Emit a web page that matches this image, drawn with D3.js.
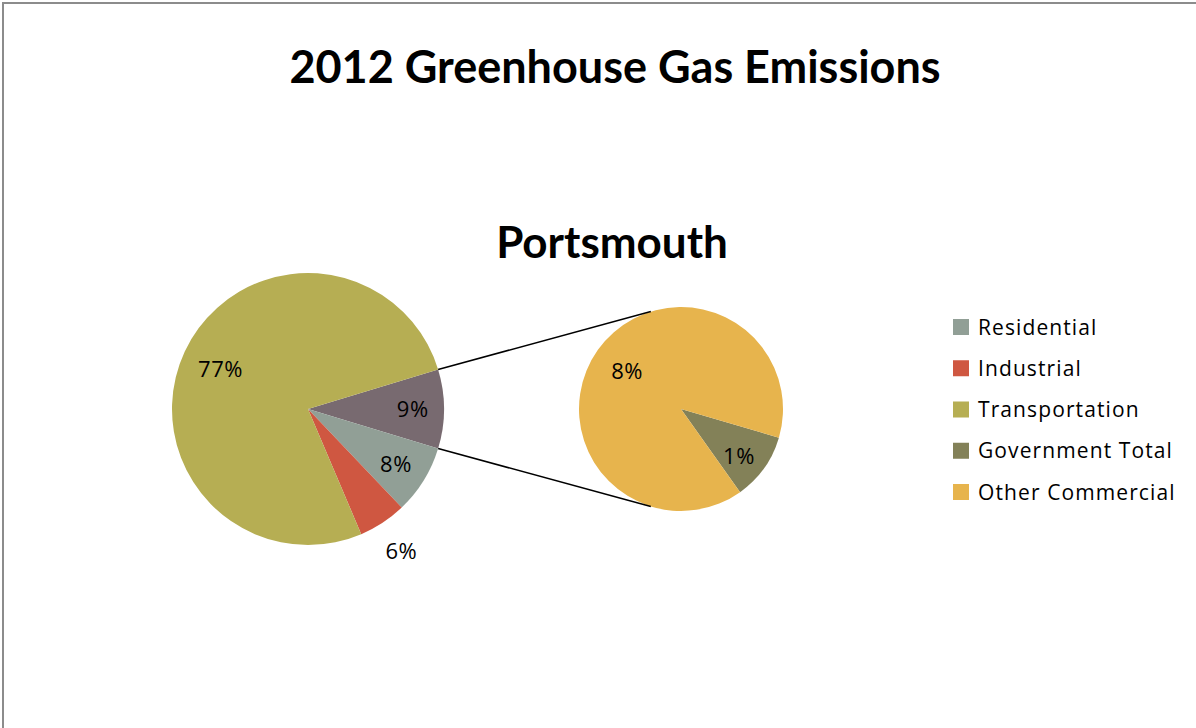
<!DOCTYPE html>
<html lang="en">
<head>
    <meta charset="UTF-8">
    <title>2012 Greenhouse Gas Emissions - Portsmouth</title>
    <script src="https://cdn.jsdelivr.net/npm/d3@7"></script>
    <style>
        body { margin: 0; background: #fff; }
        text { font-family: 'Open Sans', sans-serif; fill: #000; }
        .ttl { font-family: Lato, sans-serif; font-weight: bold; }
    </style>
</head>
<body>
<script>
    // main pie (the "other" slice is split in the small pie)
    const mainCats = ["Other", "Residential", "Industrial", "Transportation"];
    const mainVals = [9.4, 8.2, 5.7, 76.7];
    const mainLabels = ["9%", "8%", "6%", "77%"];

    // secondary pie
    const subCats = ["Government Total", "Other Commercial"];
    const subVals = [1.0, 8.4];
    const subLabels = ["1%", "8%"];

    const legendCats = ["Residential", "Industrial", "Transportation", "Government Total", "Other Commercial"];
    const colors = ["#919f96", "#cf5741", "#b6ae53", "#838158", "#e7b44d"];
    const otherColor = "#786a70";

    const W = 1196, H = 728;
    const color = d3.scaleOrdinal().domain(legendCats).range(colors).unknown(otherColor);

    const svg = d3.select("body").append("svg").attr("width", W).attr("height", H);

    // chart border (only top + left visible in the picture)
    svg.append("path")
        .attr("d", "M3,728 V3 H1196")
        .attr("fill", "none")
        .attr("stroke", "#8c8c8c")
        .attr("stroke-width", 2);

    svg.append("text").attr("class", "ttl")
        .attr("x", 615).attr("y", 83)
        .attr("text-anchor", "middle")
        .style("font-size", "45px")
        .text("2012 Greenhouse Gas Emissions");

    svg.append("text").attr("class", "ttl")
        .attr("x", 612).attr("y", 258)
        .attr("text-anchor", "middle")
        .style("font-size", "44px")
        .text("Portsmouth");

    // ---- main pie
    const c1 = [308, 409], r1 = 136;
    const otherSpan = mainVals[0] / d3.sum(mainVals) * 2 * Math.PI;
    const start1 = Math.PI / 2 - otherSpan / 2;
    const pie1 = d3.pie().sort(null).startAngle(start1).endAngle(start1 + 2 * Math.PI);
    const arcs1 = pie1(mainVals);
    const arc1 = d3.arc().innerRadius(0).outerRadius(r1);

    const g1 = svg.append("g").attr("transform", `translate(${c1})`);
    g1.selectAll("path").data(arcs1).join("path")
        .attr("d", arc1)
        .attr("fill", (d, i) => color(mainCats[i]));

    // label radius per slice (industrial sits outside)
    const labR1 = [0.77, 0.76, 1.25, 0.71];
    g1.selectAll("text").data(arcs1).join("text")
        .attr("transform", (d, i) => {
            const [x, y] = d3.arc().innerRadius(r1 * labR1[i]).outerRadius(r1 * labR1[i]).centroid(d);
            return `translate(${x},${y})`;
        })
        .attr("text-anchor", "middle")
        .attr("dy", "0.38em")
        .style("font-size", "22px")
        .style("letter-spacing", "0.5px")
        .text((d, i) => mainLabels[i]);

    // ---- secondary pie
    const c2 = [681, 409], r2 = 102;
    const start2 = 106.3 * Math.PI / 180;
    const pie2 = d3.pie().sort(null).startAngle(start2).endAngle(start2 + 2 * Math.PI);
    const arcs2 = pie2(subVals);
    const arc2 = d3.arc().innerRadius(0).outerRadius(r2);

    const g2 = svg.append("g").attr("transform", `translate(${c2})`);
    g2.selectAll("path").data(arcs2).join("path")
        .attr("d", arc2)
        .attr("fill", (d, i) => color(subCats[i]));

    const labPos2 = [[58, 47], [-54, -38]];
    g2.selectAll("text").data(arcs2).join("text")
        .attr("x", (d, i) => labPos2[i][0])
        .attr("y", (d, i) => labPos2[i][1])
        .attr("text-anchor", "middle")
        .attr("dy", "0.38em")
        .style("font-size", "22px")
        .style("letter-spacing", "0.5px")
        .text((d, i) => subLabels[i]);

    // ---- connector lines
    const o = arcs1[0];
    const pt = (c, r, a) => [c[0] + r * Math.sin(a), c[1] - r * Math.cos(a)];
    const tA = -17.2 * Math.PI / 180, bA = Math.PI + 17.2 * Math.PI / 180;
    [[pt(c1, r1, o.startAngle), pt(c2, r2, tA)], [pt(c1, r1, o.endAngle), pt(c2, r2, bA)]]
        .forEach(([a, b]) => {
            svg.append("line")
                .attr("x1", a[0]).attr("y1", a[1])
                .attr("x2", b[0]).attr("y2", b[1])
                .attr("stroke", "#000").attr("stroke-width", 1.5);
        });

    // ---- legend
    const lg = svg.append("g").attr("transform", "translate(953,327)");
    const ly = d3.scalePoint().domain(legendCats).range([0, 165]);
    const items = lg.selectAll("g").data(legendCats).join("g")
        .attr("transform", d => `translate(0,${ly(d)})`);
    items.append("rect")
        .attr("x", 0).attr("y", -8).attr("width", 16).attr("height", 16)
        .attr("fill", d => color(d));
    items.append("text")
        .attr("x", 25).attr("dy", "0.36em")
        .style("font-size", "21px")
        .style("letter-spacing", "1.1px")
        .text(d => d);
</script>
</body>
</html>
